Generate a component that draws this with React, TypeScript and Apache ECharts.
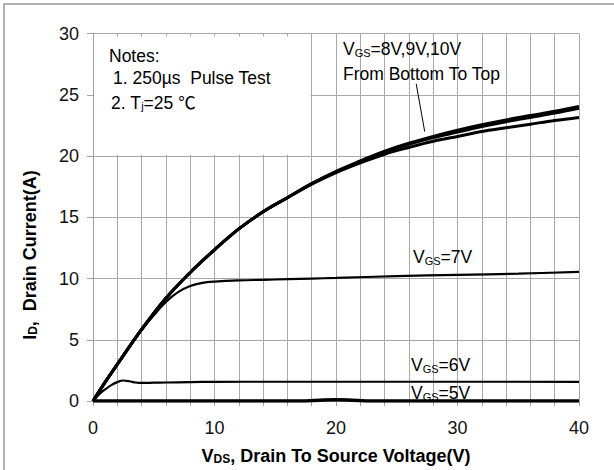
import React, { useEffect, useRef } from "react";
import * as echarts from "echarts";

// ---------- data ----------
const vgs10X = [0, 1, 2, 4, 6, 8, 10, 12, 14, 16, 18, 20, 22, 24, 26, 28, 30, 32, 34, 36, 38, 40];
const vgs10Y = [0, 1.55, 3.0, 5.85, 8.4, 10.5, 12.35, 14.05, 15.45, 16.6, 17.75, 18.75, 19.6, 20.4, 21.05, 21.6, 22.1, 22.55, 22.95, 23.3, 23.65, 24.05];

const vgs9X = [0, 1, 2, 4, 6, 8, 10, 12, 14, 16, 18, 20, 22, 24, 26, 28, 30, 32, 34, 36, 38, 40];
const vgs9Y = [0, 1.55, 3.0, 5.85, 8.4, 10.5, 12.35, 14.05, 15.45, 16.6, 17.75, 18.7, 19.55, 20.3, 20.95, 21.5, 21.95, 22.4, 22.8, 23.15, 23.5, 23.9];

const vgs8X = [0, 1, 2, 4, 6, 8, 10, 12, 14, 16, 18, 20, 22, 24, 26, 28, 30, 32, 34, 36, 38, 40];
const vgs8Y = [0, 1.55, 3.0, 5.85, 8.4, 10.5, 12.35, 14.05, 15.45, 16.6, 17.7, 18.65, 19.45, 20.15, 20.7, 21.2, 21.6, 22.0, 22.3, 22.6, 22.9, 23.15];

const vgs7X = [0, 1, 2, 4, 5, 6, 7, 8, 9, 10, 12, 14, 16, 18, 20, 25, 30, 35, 40];
const vgs7Y = [0, 1.55, 3.0, 5.8, 7.0, 8.1, 8.9, 9.4, 9.65, 9.75, 9.85, 9.9, 9.95, 10.0, 10.05, 10.2, 10.3, 10.4, 10.55];

const vgs6X = [0, 0.5, 1, 1.5, 2, 2.5, 3, 3.5, 4, 5, 6, 8, 10, 15, 20, 30, 40];
const vgs6Y = [0, 0.55, 0.95, 1.3, 1.55, 1.68, 1.62, 1.52, 1.48, 1.5, 1.52, 1.55, 1.57, 1.58, 1.58, 1.58, 1.57];

const vgs5X = [0, 10, 17, 19, 20, 21, 23, 30, 40];
const vgs5Y = [0, 0, 0, 0.08, 0.1, 0.08, 0, 0, 0];

const xTicks = [0, 10, 20, 30, 40];
const yTicks = [0, 5, 10, 15, 20, 25, 30];

// arrow: from (Vds, Id) to (Vds, Id)
const arrowFrom = [26.6, 25.9];
const arrowTo = [27.3, 22.0];

// notes box extent in data units
const notesBoxFrom = [0.1, 20.1];
const notesBoxTo = [17.9, 29.75];

const zip = (xs: number[], ys: number[]) => xs.map((x, i) => [x, ys[i]]);

const FONT = "'Liberation Sans', Arial, 'Noto Sans CJK SC', sans-serif";

const richStyles = (size: number, bold: boolean) => ({
  m: {
    fontSize: size,
    fontFamily: FONT,
    fontWeight: bold ? "bold" : "normal",
    color: "#000",
    lineHeight: 18,
    verticalAlign: "top",
  },
  s: {
    fontSize: Math.round(size * 0.65),
    fontFamily: FONT,
    fontWeight: bold ? "bold" : "normal",
    color: "#000",
    lineHeight: 11,
    padding: [11, 0, 0, 0],
    verticalAlign: "bottom",
  },
});

const annot = (text: string, x: number, y: number, size = 17.5) => ({
  type: "text",
  x,
  y,
  z: 100,
  style: {
    text,
    rich: richStyles(size, false),
    fill: "#000",
    align: "left",
    verticalAlign: "top",
    font: `${size}px ${FONT}`,
  },
});

export default function App() {
  const ref = useRef<HTMLDivElement>(null);

  useEffect(() => {
    document.body.style.margin = "0";
    if (!ref.current) return;
    const chart = echarts.init(ref.current, undefined, { renderer: "svg" });

    const lineSeries = (name: string, data: number[][], width: number, extra: any = {}) => ({
      name,
      type: "line",
      data,
      smooth: 0.35,
      showSymbol: false,
      symbol: "none",
      lineStyle: { color: "#000", width },
      z: 3,
      ...extra,
    });

    chart.setOption({
      animation: false,
      backgroundColor: "#fff",
      grid: { left: 93, right: 35, top: 33.5, bottom: 66.5, containLabel: false },
      xAxis: {
        type: "value",
        min: 0,
        max: 40,
        interval: 2,
        name: "{m|V}{s|DS}{m|, Drain To Source Voltage(V)}",
        nameLocation: "middle",
        nameGap: 42,
        nameTextStyle: { rich: richStyles(18, true) },
        axisLine: { show: true, lineStyle: { color: "#a0a0a0", width: 1 } },
        axisTick: { show: true, length: 5, lineStyle: { color: "#a0a0a0" } },
        axisLabel: {
          formatter: (v: number) => (xTicks.includes(v) ? String(v) : ""),
          margin: 18,
          fontSize: 18,
          fontFamily: FONT,
          color: "#111",
        },
        splitLine: { show: true, lineStyle: { color: "#a8a8a8", width: 1 } },
      },
      yAxis: {
        type: "value",
        min: 0,
        max: 30,
        interval: 5,
        axisLine: { show: true, lineStyle: { color: "#a0a0a0", width: 1 } },
        axisTick: { show: true, length: 6, lineStyle: { color: "#a0a0a0" } },
        axisLabel: {
          formatter: (v: number) => (yTicks.includes(v) ? String(v) : ""),
          margin: 14,
          fontSize: 18,
          fontFamily: FONT,
          color: "#111",
        },
        splitLine: { show: true, lineStyle: { color: "#a8a8a8", width: 1 } },
      },
      series: [
        lineSeries("VGS=5V", zip(vgs5X, vgs5Y), 3.5, {
          markArea: {
            silent: true,
            itemStyle: { color: "#fff", opacity: 1 },
            data: [[{ coord: notesBoxFrom }, { coord: notesBoxTo }]],
          },
        }),
        lineSeries("VGS=6V", zip(vgs6X, vgs6Y), 2.2),
        lineSeries("VGS=7V", zip(vgs7X, vgs7Y), 2.2),
        lineSeries("VGS=8V", zip(vgs8X, vgs8Y), 3),
        lineSeries("VGS=9V", zip(vgs9X, vgs9Y), 3),
        lineSeries("VGS=10V", zip(vgs10X, vgs10Y), 3, {
          markLine: {
            silent: true,
            symbol: ["none", "arrow"],
            symbolSize: [0, 9],
            label: { show: false },
            lineStyle: { color: "#000", width: 1, type: "solid" },
            data: [[{ coord: arrowFrom }, { coord: arrowTo }]],
          },
        }),
      ],
      graphic: [
        {
          type: "rect",
          shape: { x: 4, y: 4, width: 800, height: 800 },
          style: { fill: "none", stroke: "#999", lineWidth: 1.5 },
          silent: true,
          z: -10,
        },
        {
          type: "text",
          x: 30,
          y: 255,
          rotation: Math.PI / 2,
          z: 100,
          style: {
            text: "{m|I}{s|D}{m|,  Drain Current(A)}",
            rich: richStyles(18, true),
            align: "center",
            verticalAlign: "middle",
            fill: "#000",
          },
        },
        annot("Notes:", 109, 47),
        annot("1. 250µs  Pulse Test", 113, 69.5),
        annot("2. T{s|j}=25 ℃", 111, 94),
        annot("{m|V}{s|GS}{m|=8V,9V,10V}", 343, 40),
        annot("From Bottom To Top", 343, 65),
        annot("{m|V}{s|GS}{m|=7V}", 413, 248),
        annot("{m|V}{s|GS}{m|=6V}", 411, 356),
        annot("{m|V}{s|GS}{m|=5V}", 411, 384),
      ],
    });

    return () => chart.dispose();
  }, []);

  return <div ref={ref} style={{ width: 614, height: 470 }} />;
}
